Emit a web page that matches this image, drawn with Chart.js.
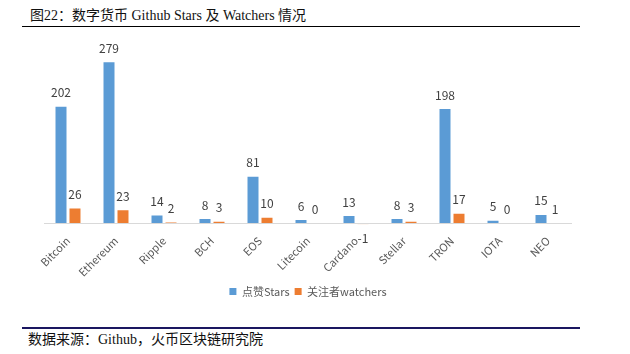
<!DOCTYPE html>
<html>
<head>
<meta charset="utf-8">
<script src="https://cdn.jsdelivr.net/npm/chart.js@4"></script>
<style>
  body { margin: 0; width: 630px; height: 354px; background: #fff; position: relative; overflow: hidden; }
  .title { position: absolute; left: 30px; top: 7px; font: 14px "Liberation Serif", "Noto Sans CJK SC"; color: #111; line-height: 18px; }
  .rule-top { position: absolute; left: 22px; top: 26px; width: 558px; height: 1px; background: #000; }
  .rule-bottom { position: absolute; left: 22px; top: 327px; width: 558px; height: 2px; background: #1a1660; }
  .source { position: absolute; left: 28px; top: 331px; font: 14px "Liberation Serif", "Noto Sans CJK SC"; color: #111; line-height: 18px; }
  #wrap { position: absolute; left: 0; top: 0; width: 630px; height: 307px; }
</style>
</head>
<body>
<div class="title">图22：数字货币 Github Stars 及 Watchers 情况</div>
<div class="rule-top"></div>
<div id="wrap"><canvas id="chart"></canvas></div>
<div class="rule-bottom"></div>
<div class="source">数据来源：Github，火币区块链研究院</div>
<script>
// 데이터
const coins = ['Bitcoin', 'Ethereum', 'Ripple', 'BCH', 'EOS', 'Litecoin', 'Cardano', 'Stellar', 'TRON', 'IOTA', 'NEO'];
const stars = [202, 279, 14, 8, 81, 6, 13, 8, 198, 5, 15];
const watchers = [26, 23, 2, 3, 10, 0, -1, 3, 17, 0, 1];

// 막대 위 값 표시
const valueLabels = {
    id: 'valueLabels',
    afterDatasetsDraw(chart) {
        const { ctx } = chart;
        ctx.save();
        ctx.font = '12px "Noto Sans CJK SC"';
        ctx.fillStyle = '#404040';
        ctx.textAlign = 'center';
        ctx.textBaseline = 'middle';
        chart.data.datasets.forEach((ds, i) => {
            chart.getDatasetMeta(i).data.forEach((bar, j) => {
                const v = ds.data[j];
                const y = v < 0 ? bar.y + 14 : bar.y - 14;
                ctx.fillText(String(v), bar.x, y);
            });
        });
        ctx.restore();
    }
};

new Chart(document.getElementById('chart'), {
    type: 'bar',
    data: {
        labels: coins,
        datasets: [
            { label: '点赞Stars', data: stars, backgroundColor: '#5b9bd5', categoryPercentage: 0.583, barPercentage: 0.786 },
            { label: '关注者watchers', data: watchers, backgroundColor: '#ed7d31', categoryPercentage: 0.583, barPercentage: 0.786 }
        ]
    },
    options: {
        responsive: true,
        maintainAspectRatio: false,
        animation: false,
        layout: { padding: { left: 44, right: 58, top: 50, bottom: 0 } },
        plugins: {
            tooltip: { enabled: false },
            legend: {
                position: 'bottom',
                labels: { boxWidth: 7, boxHeight: 7, padding: 5, color: '#595959', font: { size: 11, family: '"Noto Sans CJK SC"' } }
            }
        },
        scales: {
            x: {
                grid: { display: false },
                border: { display: false },
                ticks: { padding: 2, minRotation: 45, maxRotation: 45, color: '#595959', font: { size: 11, family: '"Noto Sans CJK SC"' } }
            },
            y: {
                min: -1, max: 300,
                border: { display: false },
                ticks: { display: false, stepSize: 1 },
                grid: { drawTicks: false, color: c => c.tick.value === 0 ? '#d9d9d9' : 'transparent' }
            }
        }
    },
    plugins: [valueLabels]
});
</script>
</body>
</html>
